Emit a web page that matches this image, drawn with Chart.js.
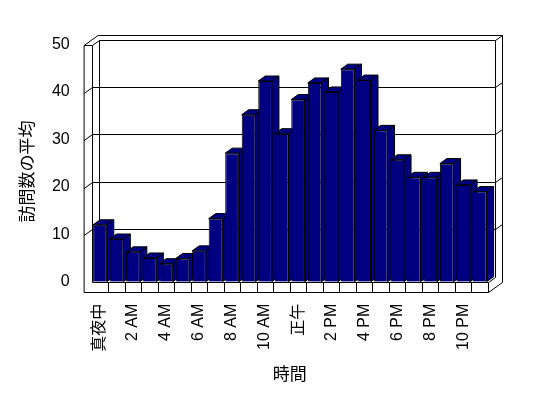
<!DOCTYPE html>
<html>
<head>
<meta charset="utf-8">
<script src="https://cdn.jsdelivr.net/npm/chart.js@4"></script>
<style>
  body { margin: 0; background: #fff; }
  canvas { display: block; }
</style>
</head>
<body>
<canvas id="c" width="548" height="398"></canvas>
<script>
// hours of the day (only every second label is shown)
var hours = ['真夜中', '1 AM', '2 AM', '3 AM', '4 AM', '5 AM', '6 AM', '7 AM', '8 AM', '9 AM', '10 AM', '11 AM',
             '正午', '1 PM', '2 PM', '3 PM', '4 PM', '5 PM', '6 PM', '7 PM', '8 PM', '9 PM', '10 PM', '11 PM'];
var visits = [12.0, 9.0, 6.3, 5.0, 3.8, 4.9, 6.5, 13.3, 27.1, 35.2, 42.3, 31.2,
              38.4, 41.9, 40.0, 44.8, 42.5, 31.9, 25.7, 22.0, 22.0, 24.9, 20.4, 19.0];
var yMin = 0, yMax = 50, yStep = 10;

var DX = 7, DY = -5;   // depth offset of the 3d look
var WALL = 8.4, FLOOR = 10;

function line(ctx, pts) {
  ctx.beginPath();
  ctx.moveTo(pts[0][0], pts[0][1]);
  for (var i = 1; i < pts.length; i++) ctx.lineTo(pts[i][0], pts[i][1]);
  ctx.stroke();
}
function poly(ctx, pts, fill) {
  ctx.beginPath();
  ctx.moveTo(pts[0][0], pts[0][1]);
  for (var i = 1; i < pts.length; i++) ctx.lineTo(pts[i][0], pts[i][1]);
  ctx.closePath();
  ctx.fillStyle = fill;
  ctx.fill();
  ctx.stroke();
}

var frame3d = {
  id: 'frame3d',
  beforeDatasetsDraw: function(chart) {
    var ctx = chart.ctx, a = chart.chartArea;
    var ys = chart.scales.y, xs = chart.scales.x;
    var L = a.left, R = a.right, T = a.top, B = a.bottom;
    ctx.save();
    ctx.strokeStyle = '#000';
    ctx.lineWidth = 1;
    ctx.translate(0.5, 0.5);
    L = Math.round(L); R = Math.round(R); T = Math.round(T); B = Math.round(B);

    // outer silhouette: left wall, back wall top and right side, floor
    line(ctx, [[L - WALL, B + FLOOR], [L - WALL, T], [L - WALL + DX, T + DY], [L - WALL + 2 * DX, T + 2 * DY],
               [R + 2 * DX, T + 2 * DY], [R + 2 * DX, B + FLOOR + 2 * DY], [R, B + FLOOR], [L - WALL, B + FLOOR]]);
    line(ctx, [[L - WALL, T], [L, T]]);
    line(ctx, [[L, B], [L, T], [L + DX, T + DY], [R + DX, T + DY], [R + DX, B + DY], [R, B], [R, B + FLOOR]]);
    line(ctx, [[R + DX, T + DY], [R + 2 * DX, T + 2 * DY]]);
    line(ctx, [[L + DX, T + DY], [L + DX, B + DY]]);
    line(ctx, [[L, B], [R, B]]);

    // gridlines on the walls
    for (var v = yMin + yStep; v < yMax; v += yStep) {
      var y = Math.round(ys.getPixelForValue(v));
      line(ctx, [[L - WALL, y + 1], [L, y + DY], [R + DX, y + DY], [R + 2 * DX, y + 2 * DY]]);
    }

    // cells on the floor front
    var n = hours.length;
    for (var i = 1; i < n; i++) {
      var x = Math.round((xs.getPixelForValue(i - 1) + xs.getPixelForValue(i)) / 2);
      line(ctx, [[x, B], [x, B + FLOOR]]);
    }

    // top and side faces of the columns, the fronts come from chart.js
    ctx.translate(-0.5, -0.5);
    var meta = chart.getDatasetMeta(0);
    meta.data.forEach(function(el) {
      var l = el.x - el.width / 2, r = el.x + el.width / 2, t = el.y, b = el.base;
      poly(ctx, [[l, t], [l + DX, t + DY], [r + DX, t + DY], [r, t]], '#000080');
      poly(ctx, [[r, t], [r + DX, t + DY], [r + DX, b + DY], [r, b]], '#000080');
    });
    ctx.restore();
  }
};

var font = "'Liberation Sans', 'Noto Sans CJK JP', sans-serif";
Chart.defaults.font.family = font;
Chart.defaults.font.size = 16;
Chart.defaults.color = '#000';

new Chart(document.getElementById('c'), {
  type: 'bar',
  plugins: [frame3d],
  data: {
    labels: hours,
    datasets: [{
      data: visits,
      backgroundColor: '#000080',
      borderColor: '#000',
      borderWidth: 1,
      barPercentage: 0.83,
      categoryPercentage: 1.0
    }]
  },
  options: {
    responsive: false,
    animation: false,
    layout: { padding: { top: 44.5, right: 60, bottom: 0, left: 0 } },
    plugins: { legend: { display: false }, tooltip: { enabled: false } },
    scales: {
      x: {
        grid: { display: false, drawTicks: false },
        border: { display: false },
        ticks: {
          autoSkip: false,
          minRotation: 90,
          maxRotation: 90,
          padding: 22,
          font: { size: 16 },
          callback: function(value, index) { return index % 2 ? '' : hours[index]; }
        },
        title: { display: true, text: '時間', font: { size: 17 }, padding: { top: 0, bottom: 12 } },
        afterFit: function(scale) { scale.height = 116.3; }
      },
      y: {
        min: yMin,
        max: yMax,
        grid: { display: false, drawTicks: false },
        border: { display: false },
        ticks: { stepSize: yStep, padding: 22, font: { size: 16 } },
        title: { display: true, text: '訪問数の平均\u3000', font: { size: 17 }, padding: { top: 18, bottom: 0 } },
        afterFit: function(scale) { scale.width = 91.7; }
      }
    }
  }
});
</script>
</body>
</html>
